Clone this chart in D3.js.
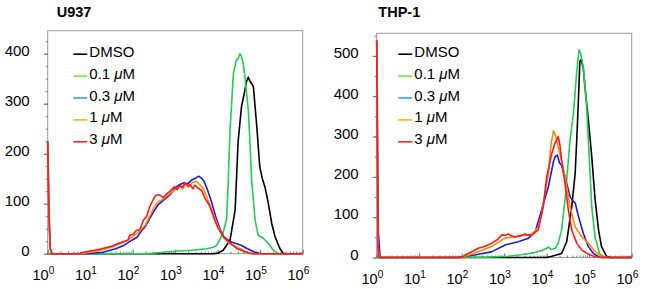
<!DOCTYPE html>
<html>
<head>
<meta charset="utf-8">
<script src="https://cdn.jsdelivr.net/npm/d3@7"></script>
<style>
  body { margin: 0; background: #fff; }
  svg { display: block; font-family: "Liberation Sans", Arial, Helvetica, sans-serif; }
</style>
</head>
<body>
<svg id="chart" width="650" height="289"></svg>
<script>
// points are [log10 fluorescence, cell count]
const legendLabels = ["DMSO", "0.1", "0.3", "1", "3"];
const lineColors = ["#000000", "#22cc55", "#1a1ae6", "#ff8800", "#ff1a1a"];
const legendColors = ["#000000", "#66ee33", "#3399ff", "#ffbb00", "#ff2222"];
const decades = [0, 1, 2, 3, 4, 5, 6];

// U937
const u937Ticks = [0, 100, 200, 300, 400];
const u937Dmso = [[0,0],[3.9,0],[4.0,1],[4.13,7],[4.29,27],[4.41,87],[4.48,224],[4.56,294],[4.64,327],[4.68,345],[4.72,353],[4.74,348],[4.76,345],[4.8,340],[4.84,334],[4.92,254],[4.99,174],[5.05,150],[5.11,134],[5.19,101],[5.27,61],[5.35,34],[5.46,11],[5.54,1],[5.6,0],[6,0]];
const u937C01 = [[0,0],[2.3,0],[2.6,2],[3.0,5],[3.4,7],[3.74,10],[3.9,13],[3.97,16],[4.05,28],[4.13,43],[4.21,70],[4.25,150],[4.29,247],[4.37,361],[4.44,387],[4.48,390],[4.52,400],[4.56,395],[4.6,380],[4.64,354],[4.72,287],[4.76,221],[4.8,147],[4.88,67],[4.95,37],[5.07,31],[5.19,21],[5.31,7],[5.43,0],[6,0]];
const u937C03 = [[0,225],[0.03,80],[0.06,10],[0.1,0],[0.9,0],[1.3,3],[1.6,10],[1.8,17],[2.0,28],[2.1,33],[2.2,45],[2.3,55],[2.4,70],[2.5,85],[2.6,98],[2.7,105],[2.8,112],[2.9,120],[3.0,132],[3.1,138],[3.2,142],[3.3,140],[3.4,148],[3.5,152],[3.55,155],[3.62,151],[3.68,145],[3.75,130],[3.85,105],[3.95,75],[4.05,50],[4.15,33],[4.3,24],[4.45,20],[4.55,17],[4.7,10],[4.85,4],[5.0,0],[6,0]];
const u937C1 = [[0,225],[0.03,80],[0.06,10],[0.1,0],[0.8,0],[1.2,6],[1.6,16],[1.9,28],[2.0,34],[2.15,44],[2.3,58],[2.4,75],[2.5,92],[2.6,104],[2.7,108],[2.8,115],[2.9,122],[3.0,128],[3.1,135],[3.18,130],[3.25,140],[3.32,133],[3.4,142],[3.5,145],[3.58,138],[3.65,132],[3.74,114],[3.89,81],[4.01,54],[4.13,34],[4.25,22],[4.37,17],[4.5,11],[4.6,7],[4.72,2],[4.8,0],[6,0]];
const u937C3 = [[0,225],[0.03,80],[0.06,10],[0.1,0],[0.75,0],[0.79,2],[1.22,9],[1.5,15],[1.7,22],[1.89,27],[1.93,37],[2.01,39],[2.09,47],[2.17,48],[2.25,67],[2.33,75],[2.4,94],[2.52,114],[2.58,118],[2.64,117],[2.72,112],[2.8,120],[2.87,124],[2.93,130],[2.99,134],[3.05,128],[3.11,137],[3.17,133],[3.23,141],[3.3,136],[3.35,138],[3.42,130],[3.46,137],[3.54,131],[3.62,127],[3.70,111],[3.82,94],[3.93,67],[4.01,51],[4.13,34],[4.29,21],[4.44,11],[4.64,4],[4.76,1],[4.85,0],[6,0]];

// THP-1
const thpTicks = [0, 100, 200, 300, 400, 500];
const thpDmso = [[0,0],[4.0,0],[4.12,3],[4.35,10],[4.47,39],[4.59,126],[4.67,209],[4.71,300],[4.74,374],[4.78,486],[4.8,490],[4.82,487],[4.86,470],[4.9,424],[4.98,341],[5.06,250],[5.14,143],[5.22,68],[5.29,27],[5.41,3],[5.5,0],[6,0]];
const thpC01 = [[0,0],[2.0,0],[2.6,1],[3.1,3],[3.4,7],[3.7,12],[3.9,18],[4.0,23],[4.04,26],[4.1,20],[4.2,23],[4.27,35],[4.35,68],[4.43,143],[4.55,292],[4.63,358],[4.71,465],[4.76,515],[4.8,505],[4.86,474],[4.94,374],[4.98,292],[5.06,126],[5.14,50],[5.25,8],[5.37,1],[5.45,0],[6,0]];
const thpC03 = [[0,539],[0.04,60],[0.08,0],[1.9,0],[2.3,6],[2.7,14],[3.02,31],[3.33,39],[3.57,48],[3.73,64],[3.88,118],[4.04,176],[4.16,238],[4.2,250],[4.25,254],[4.3,235],[4.35,229],[4.45,192],[4.55,151],[4.62,140],[4.67,135],[4.75,101],[4.86,60],[4.98,27],[5.1,10],[5.22,2],[5.3,0],[6,0]];
const thpC1 = [[0,539],[0.03,30],[0.06,0],[2.0,0],[2.39,14],[2.70,27],[3.02,48],[3.33,53],[3.5,55],[3.65,58],[3.8,75],[3.88,107],[3.96,160],[4.04,207],[4.1,280],[4.16,314],[4.2,305],[4.27,275],[4.35,240],[4.43,200],[4.55,126],[4.67,76],[4.82,52],[4.98,35],[5.14,15],[5.29,2],[5.35,0],[6,0]];
const thpC3 = [[0,539],[0.03,20],[0.05,0],[2.0,0],[2.08,6],[2.39,23],[2.55,28],[2.70,35],[2.85,45],[2.94,56],[3.02,55],[3.1,58],[3.18,54],[3.25,51],[3.35,53],[3.49,58],[3.57,55],[3.65,56],[3.8,68],[3.92,126],[4.0,200],[4.12,258],[4.2,285],[4.24,292],[4.27,300],[4.31,280],[4.35,242],[4.43,184],[4.51,118],[4.59,68],[4.71,35],[4.82,19],[4.98,8],[5.14,2],[5.3,0],[6,0]];

const svg = d3.select("#chart");

const drawPanel = (p) => {
  const x = d3.scaleLog().domain([1, 1e6]).range([p.left, p.right]);
  const y = d3.scaleLinear().domain([0, p.ymax]).range([p.bottom, p.top]);
  const g = svg.append("g");

  // frame
  g.append("rect")
   .attr("x", p.left).attr("y", p.top)
   .attr("width", p.right - p.left).attr("height", p.bottom - p.top)
   .attr("fill", "none").attr("stroke", "#999").attr("stroke-width", 1);

  // y axis, major + minor
  const minorY = d3.range(0, p.ymax, p.minor);
  g.append("g")
   .attr("transform", `translate(${p.left},0)`)
   .call(d3.axisLeft(y).tickValues(minorY).tickSize(2).tickFormat(""))
   .call(s => s.select(".domain").remove())
   .selectAll("line").attr("stroke", "#777");
  const yAx = g.append("g")
   .attr("transform", `translate(${p.left},0)`)
   .call(d3.axisLeft(y).tickValues(p.ticks).tickSize(4).tickPadding(14))
   .call(s => s.select(".domain").remove());
  yAx.selectAll("line").attr("stroke", "#666");
  yAx.selectAll("text")
     .attr("dy", "0.12em")
     .attr("font-size", 15)
     .attr("font-family", "Liberation Sans, Arial, sans-serif")
     .attr("fill", "#000");

  // x axis ticks inside
  const minorX = [];
  decades.slice(0, -1).forEach(d => { for (let k = 2; k < 10; k++) minorX.push(k * Math.pow(10, d)); });
  g.append("g")
   .attr("transform", `translate(0,${p.bottom})`)
   .call(d3.axisBottom(x).tickValues(minorX).tickSize(-2).tickFormat(""))
   .call(s => s.select(".domain").remove())
   .selectAll("line").attr("stroke", "#777");
  g.append("g")
   .attr("transform", `translate(0,${p.bottom})`)
   .call(d3.axisBottom(x).tickValues(decades.map(d => Math.pow(10, d))).tickSize(-4).tickFormat(""))
   .call(s => s.select(".domain").remove())
   .selectAll("line").attr("stroke", "#666");

  // x labels: "10" ending at the tick, exponent after it
  const lab = g.append("g").selectAll("g").data(decades).join("g")
    .attr("transform", d => `translate(${x(Math.pow(10, d))},${p.bottom + 26})`);
  lab.append("text").attr("text-anchor", "end").attr("x", 1)
     .attr("font-size", 14.5).text("10");
  lab.append("text").attr("x", 1).attr("y", -6)
     .attr("font-size", 10).text(d => d);

  // curves
  const line = d3.line()
    .x(d => x(Math.pow(10, d[0])))
    .y(d => y(d[1]));
  g.append("g").selectAll("path").data(p.series).join("path")
   .attr("d", d => line(d))
   .attr("fill", "none")
   .attr("stroke", (d, i) => lineColors[i])
   .attr("stroke-width", 1.6)
   .attr("stroke-linejoin", "round");

  // title
  g.append("text").attr("x", p.titleX).attr("y", 17)
   .attr("font-size", 14.5).attr("font-weight", "bold").text(p.title);

  // legend
  const leg = g.append("g").selectAll("g").data(legendLabels).join("g")
    .attr("transform", (d, i) => `translate(${p.legendX},${56.7 + i * 21.9})`);
  leg.append("line").attr("x1", 0).attr("x2", 14).attr("y1", -2.5).attr("y2", -2.5)
     .attr("stroke", (d, i) => legendColors[i]).attr("stroke-width", 1.6);
  const lt = leg.append("text").attr("x", 16).attr("font-size", 15);
  lt.each(function(d, i) {
    const t = d3.select(this);
    if (i === 0) { t.text(d); return; }
    t.append("tspan").text(d + " ");
    t.append("tspan").attr("font-style", "italic").text("\u03bc");
    t.append("tspan").text("M");
  });
};

drawPanel({
  left: 47.7, right: 302.7, top: 30.7, bottom: 253.7, ymax: 446,
  ticks: u937Ticks, minor: 25, title: "U937", titleX: 56.7, legendX: 73.3,
  series: [u937Dmso, u937C01, u937C03, u937C1, u937C3]
});
drawPanel({
  left: 376.7, right: 631.7, top: 33.3, bottom: 257.5, ymax: 556,
  ticks: thpTicks, minor: 50, title: "THP-1", titleX: 378.3, legendX: 398.3,
  series: [thpDmso, thpC01, thpC03, thpC1, thpC3]
});
</script>
</body>
</html>
